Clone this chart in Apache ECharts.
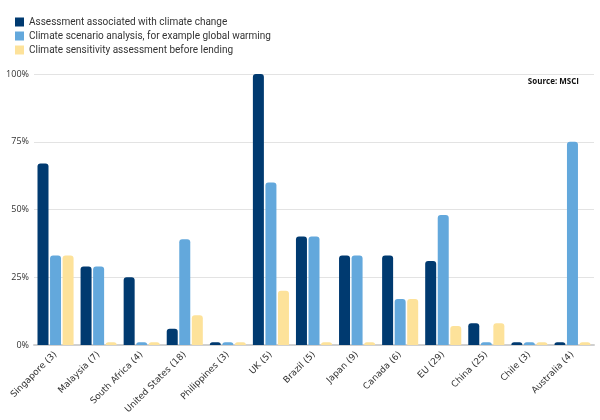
<!DOCTYPE html>
<html>
<head>
<meta charset="utf-8">
<script src="https://cdn.jsdelivr.net/npm/echarts@6/dist/echarts.min.js"></script>
<style>html,body{margin:0;padding:0;background:#fff}#c{width:600px;height:420px}</style>
</head>
<body>
<div id="c"></div>
<script>
const categories = ["Singapore (3)", "Malaysia (7)", "South Africa (4)", "United States (18)", "Philippines (3)", "UK (5)", "Brazil (5)", "Japan (9)", "Canada (6)", "EU (29)", "China (25)", "Chile (3)", "Australia (4)"];
const seriesNames = ["Assessment associated with climate change", "Climate scenario analysis, for example global warming", "Climate sensitivity assessment before lending"];
const assessment = [67, 29, 25, 6, 1, 100, 40, 33, 33, 31, 8, 1, 1];
const scenario = [33, 29, 1, 39, 1, 60, 40, 33, 17, 48, 1, 1, 75];
const sensitivity = [33, 1, 1, 11, 1, 20, 1, 1, 17, 7, 8, 1, 1];
const yTicks = [0, 25, 50, 75, 100];
const sourceText = "Source: MSCI";

const colors = ["#003a70", "#63a8dc", "#fde29a"];
const chart = echarts.init(document.getElementById('c'), null, {renderer: 'canvas'});
const mk = (name, data, i) => ({
  name, type: 'bar', data, barWidth: 11, barGap: '14%',
  itemStyle: {color: colors[i], borderRadius: [3, 3, 0, 0]}
});
chart.setOption({
  animation: false,
  textStyle: {fontFamily: '"Open Sans", sans-serif'},
  legend: {
    orient: 'vertical', left: 10, top: 11, itemWidth: 9, itemHeight: 9, itemGap: 2,
    icon: 'rect',
    textStyle: {fontSize: 10, lineHeight: 12, color: '#333', fontFamily: 'Roboto, sans-serif'},
    data: seriesNames
  },
  graphic: [{
    type: 'text', right: 21, top: 78,
    style: {text: sourceText, font: 'bold 8px "Open Sans", sans-serif', fill: '#111'}
  }],
  grid: {left: 34, right: 6, top: 74, bottom: 75, containLabel: false},
  xAxis: {
    type: 'category', data: categories,
    axisLine: {lineStyle: {color: '#d0d0d0', width: 2}},
    axisTick: {show: false},
    axisLabel: {rotate: 45, fontSize: 9, color: '#333', margin: 8, interval: 0, fontFamily: '"DejaVu Sans", sans-serif'}
  },
  yAxis: {
    type: 'value', min: yTicks[0], max: yTicks[yTicks.length - 1], interval: 25,
    axisLine: {show: false}, axisTick: {show: false},
    splitLine: {lineStyle: {color: '#e3e3e3', width: 1}},
    axisLabel: {formatter: '{value}%', fontSize: 9, color: '#333', margin: 5, fontFamily: '"Open Sans", sans-serif'}
  },
  series: [mk(seriesNames[0], assessment, 0), mk(seriesNames[1], scenario, 1), mk(seriesNames[2], sensitivity, 2)]
});
</script>
</body>
</html>
